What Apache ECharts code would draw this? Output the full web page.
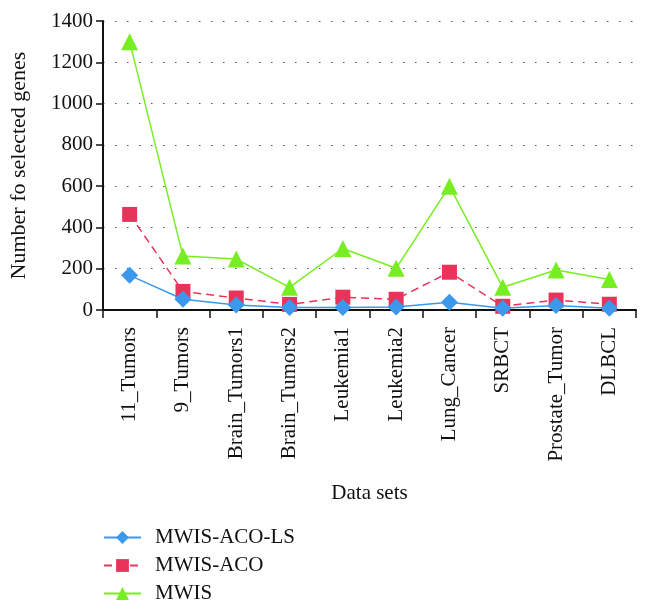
<!DOCTYPE html>
<html><head><meta charset="utf-8">
<script src="https://cdn.jsdelivr.net/npm/echarts@6/dist/echarts.min.js"></script>
<style>html,body{margin:0;padding:0;background:#fff}#c{width:650px;height:614px}</style>
</head><body><div id="c"></div>
<script>
const categories = ["11_Tumors","9_Tumors","Brain_Tumors1","Brain_Tumors2","Leukemia1","Leukemia2","Lung_Cancer","SRBCT","Prostate_Tumor","DLBCL"];
const mwisAcoLs = [168, 52, 24, 12, 12, 14, 37, 8, 22, 8];
const mwisAco = [463, 90, 58, 27, 62, 52, 183, 18, 48, 28];
const mwis = [1300, 261, 247, 110, 298, 202, 600, 110, 194, 148];
const yTicks = [0, 200, 400, 600, 800, 1000, 1200, 1400];

const font = "Liberation Serif";
const fs = 21;
const chart = echarts.init(document.getElementById('c'));
chart.setOption({
  animation: false,
  textStyle: {fontFamily: font},
  grid: {left: 103, right: 14, top: 21, bottom: 304},
  legend: {
    orient: 'vertical', left: 103, top: 527, width: 400, height: 100, padding: 0,
    itemWidth: 37, itemHeight: 16, itemGap: 7,
    textStyle: {fontFamily: font, fontSize: fs, color: '#111', lineHeight: 21, padding: [0, 0, 0, 9]},
    data: ['MWIS-ACO-LS','MWIS-ACO','MWIS']
  },
  xAxis: {
    type: 'category', data: categories, boundaryGap: true,
    name: 'Data sets', nameLocation: 'middle', nameGap: 173,
    nameTextStyle: {fontFamily: font, fontSize: fs, color: '#111'},
    axisLine: {lineStyle: {color: '#111', width: 2}},
    axisTick: {show: true, length: 8, lineStyle: {color: '#111', width: 1.5}},
    axisLabel: {rotate: 90, fontFamily: font, fontSize: fs, color: '#111', margin: 17}
  },
  yAxis: {
    type: 'value', min: yTicks[0], max: yTicks[yTicks.length-1], interval: 200,
    name: 'Number fo selected genes', nameLocation: 'middle', nameGap: 73,
    nameTextStyle: {fontFamily: font, fontSize: 22, color: '#111', padding: [0, 0, 0, 0]},
    axisLine: {show: true, lineStyle: {color: '#111', width: 2}},
    axisTick: {show: true, length: 7, lineStyle: {color: '#111', width: 1.5}},
    axisLabel: {fontFamily: font, fontSize: fs, color: '#111', margin: 10, formatter: v => String(v)},
    splitLine: {show: true, lineStyle: {color: '#555', width: 1.2, type: [1.5, 10.5]}}
  },
  series: [
    {name: 'MWIS-ACO-LS', type: 'line', data: mwisAcoLs, symbol: 'diamond', symbolSize: 17,
     itemStyle: {color: '#3b98ec'}, lineStyle: {color: '#3b98ec', width: 1.5}, z: 4},
    {name: 'MWIS-ACO', type: 'line', data: mwisAco, symbol: 'rect', symbolSize: 15,
     itemStyle: {color: '#e8345a'}, lineStyle: {color: '#e8345a', width: 1.5, type: [8, 5]}, z: 3},
    {name: 'MWIS', type: 'line', data: mwis, symbol: 'triangle', symbolSize: 17,
     itemStyle: {color: '#77ee22'}, lineStyle: {color: '#77ee22', width: 1.5}, z: 2}
  ]
});
</script></body></html>
